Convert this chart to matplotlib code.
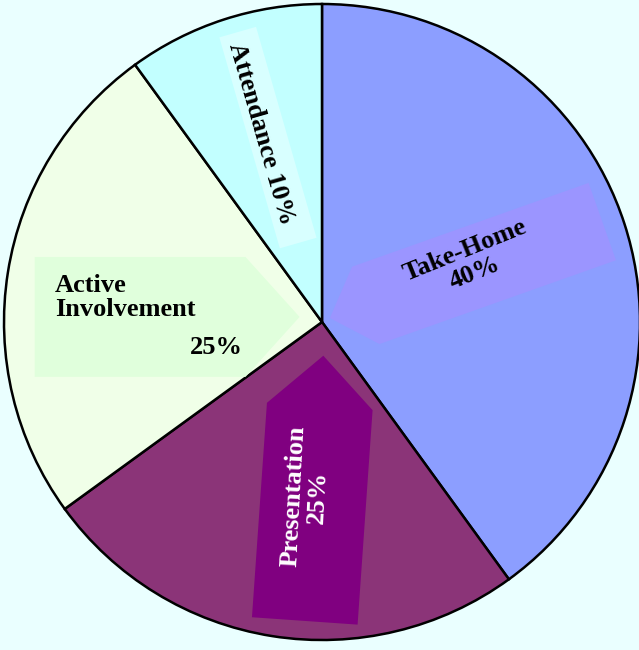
import numpy as np
import matplotlib.pyplot as plt
from matplotlib.patches import Polygon

# slice data (clockwise from 12 o'clock)
categories = ["Take-Home", "Presentation", "Active Involvement", "Attendance"]
shares = [40, 25, 25, 10]
slice_colors = ["#8C9EFF", "#8B3478", "#F0FFE8", "#C2FFFF"]
box_colors = ["#9B95FF", "#800080", "#E0FFDC", "#D8FFFF"]

BG = "#EAFFFF"
SERIF = ["Liberation Serif", "DejaVu Serif"]


def arrow_box(ax, cx, cy, length, height, angle, head, color):
    # pentagon pointing along `angle` (degrees), drawn in data units
    L, H = length / 2, height / 2
    pts = np.array([[-L, -H], [L - head, -H], [L, 0], [L - head, H], [-L, H]])
    if head == 0:
        pts = np.array([[-L, -H], [L, -H], [L, H], [-L, H]])
    a = np.deg2rad(angle)
    rot = np.array([[np.cos(a), -np.sin(a)], [np.sin(a), np.cos(a)]])
    pts = pts @ rot.T + [cx, cy]
    ax.add_patch(Polygon(pts, closed=True, facecolor=color, edgecolor="none", zorder=3))


fig = plt.figure(figsize=(6.39, 6.5), dpi=100, facecolor=BG)
ax = fig.add_axes([0, 0, 1, 1])
ax.set_facecolor(BG)

ax.pie(shares, colors=slice_colors, startangle=90, counterclock=False,
       radius=1.0, wedgeprops=dict(edgecolor="black", linewidth=1.8))

# view so the pie sits where it does in the source picture
ax.set_xlim(-1.0126, 0.9969)
ax.set_ylim(-1.0314, 1.0126)
ax.set_aspect("auto")
ax.axis("off")

# label backing shapes
arrow_box(ax, 0.453, 0.164, 0.909, 0.258, 199.5, 0.12, box_colors[0])
arrow_box(ax, -0.025, -0.523, 0.836, 0.333, 86, 0.16, box_colors[1])
arrow_box(ax, -0.487, 0.016, 0.833, 0.377, 0, 0.17, box_colors[2])
arrow_box(ax, -0.170, 0.580, 0.69, 0.12, -74, 0, box_colors[3])

fs = 19
ax.text(0.465, 0.189, f"{categories[0]}\n{shares[0]}%", ha="center", va="center",
        rotation=22, rotation_mode="anchor", fontsize=fs, fontweight="bold",
        family=SERIF, color="black", zorder=4, linespacing=1.05)
ax.text(-0.050, -0.550, f"{categories[1]}\n{shares[1]}%", ha="center", va="center",
        rotation=87, rotation_mode="anchor", fontsize=fs, fontweight="bold",
        family=SERIF, color="white", zorder=4, linespacing=1.05)
ax.text(-0.840, 0.077, "Active\nInvolvement", ha="left", va="center",
        fontsize=fs, fontweight="bold", family=SERIF, color="black",
        zorder=4, linespacing=1.1)
ax.text(-0.248, -0.079, f"{shares[2]}%", ha="right", va="center",
        fontsize=fs, fontweight="bold", family=SERIF, color="black", zorder=4)
ax.text(-0.192, 0.591, f"{categories[3]} {shares[3]}%", ha="center", va="center",
        rotation=-74, rotation_mode="anchor", fontsize=fs, fontweight="bold",
        family=SERIF, color="black", zorder=4)

fig.savefig("out.png", dpi=100, facecolor=BG)
